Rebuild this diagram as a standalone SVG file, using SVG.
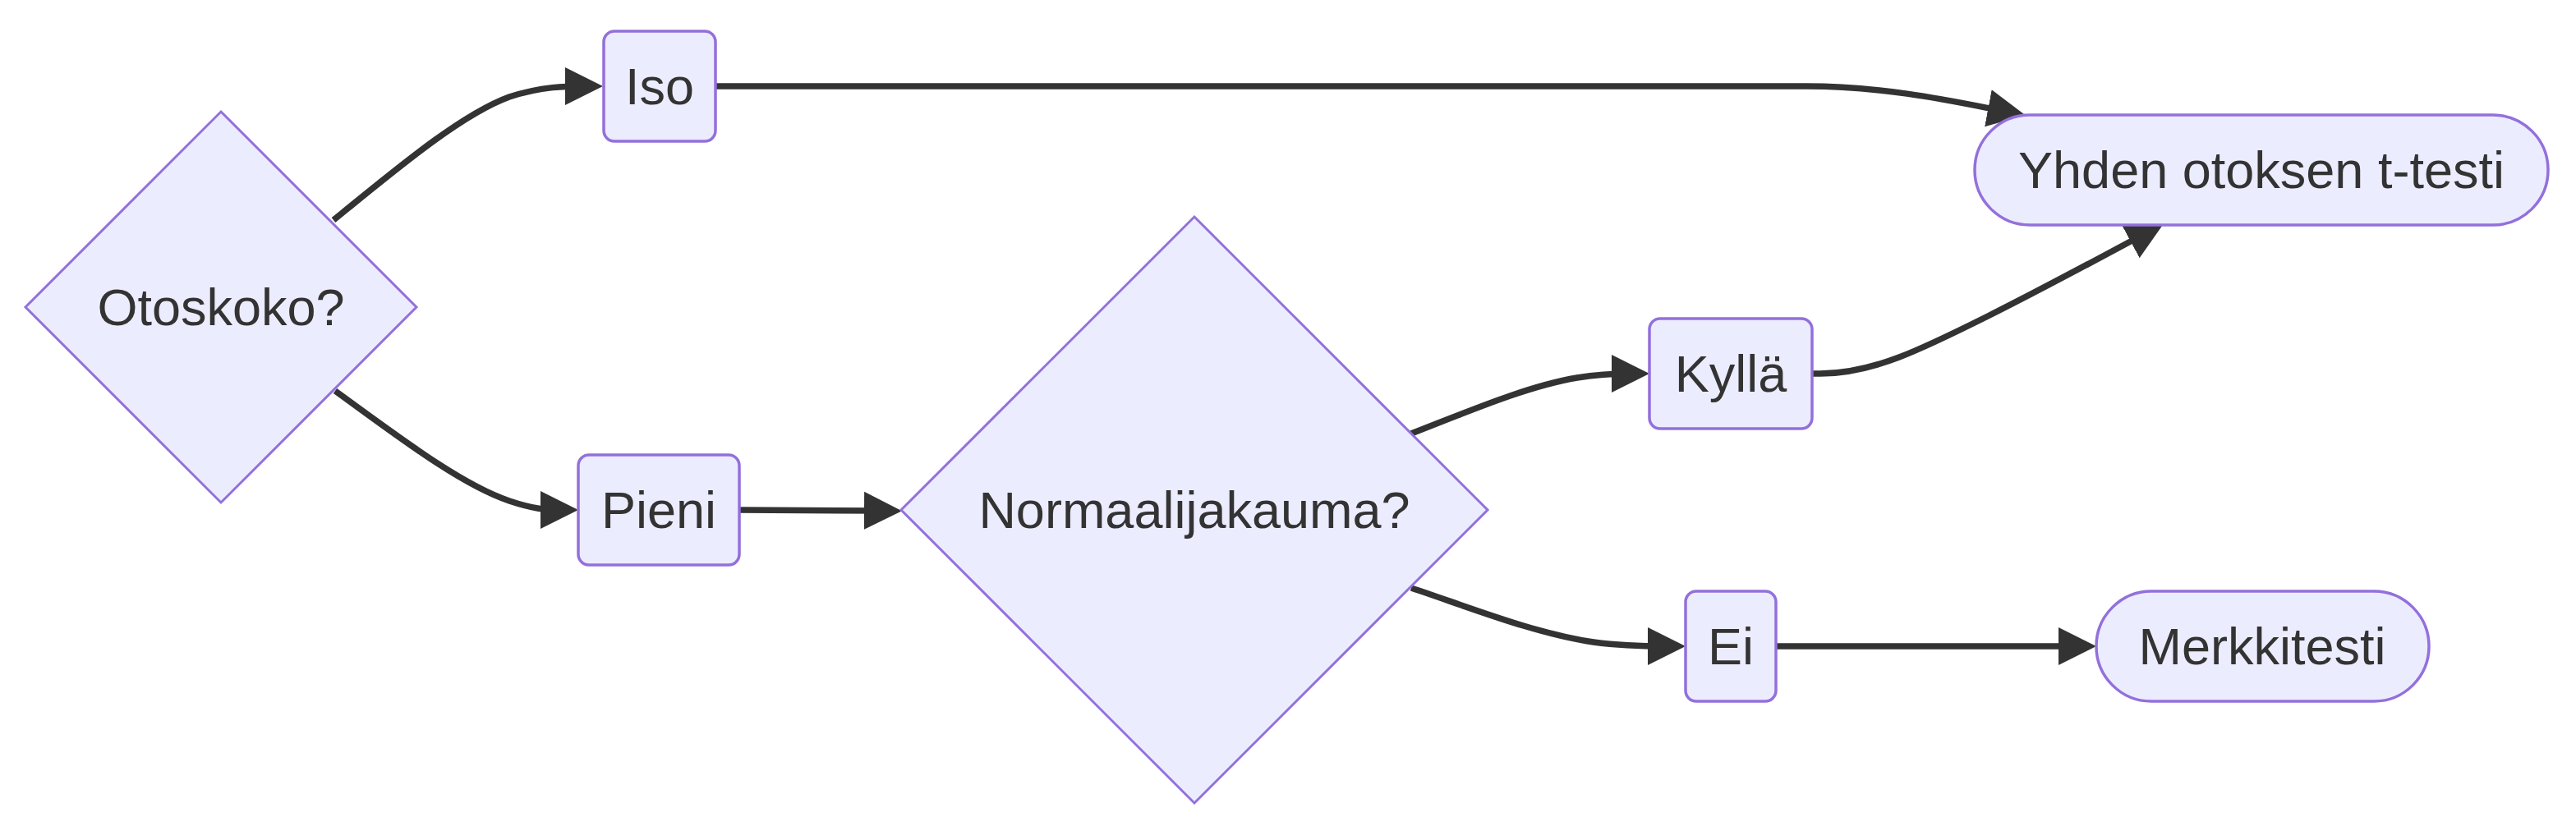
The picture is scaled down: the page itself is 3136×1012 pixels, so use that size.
<svg xmlns="http://www.w3.org/2000/svg" width="3136" height="1012" viewBox="0 0 3136 1012">
<style>
.node{fill:#ECECFF;stroke:#9370DB;stroke-width:3.5}
.dia{fill:#ECECFF;stroke:#9370DB;stroke-width:3}
.lbl{font-family:"Liberation Sans",Arial,sans-serif;font-size:63px;fill:#333333;text-anchor:middle}
.edge{fill:none;stroke:#333333;stroke-width:7.5;marker-end:url(#arrow)}
</style>
<defs>
<marker id="arrow" viewBox="0 0 10 10" refX="5" refY="5" markerUnits="userSpaceOnUse" markerWidth="46" markerHeight="48" orient="auto">
<path d="M0,0 L10,5 L0,10 z" fill="#333333"/>
</marker>
</defs>
<rect width="3136" height="1012" fill="#ffffff"/>
<g id="edges">
<path class="edge" d="M406,268 C480,208 560,140 620,118 C660,105 690,105 711,105"/>
<path class="edge" d="M408,476 C480,528 560,590 620,610 C650,620 665,621 681,621"/>
<path class="edge" d="M900,621 L1075,622"/>
<path class="edge" d="M871,105 L2200,105 C2300,105 2390,126 2443,136"/>
<path class="edge" d="M2206,455 L2216,455 C2280,455 2340,425 2420,385 C2490,350 2560,312 2614,283"/>
<path class="edge" d="M1718,528 C1790,500 1860,470 1920,460 C1945,456 1965,455 1985,455"/>
<path class="edge" d="M1718,716 C1790,740 1870,772 1940,782 C1970,786 1995,787 2029,787"/>
<path class="edge" d="M2162,787 L2529,787"/>
</g>
<g id="otoskoko">
<polygon class="dia" points="269,136 507,374 269,612 31,374"/>
<text class="lbl" x="269" y="396">Otoskoko?</text>
</g>
<g id="iso">
<rect class="node" x="735" y="38" width="136" height="134" rx="13"/>
<text class="lbl" x="803" y="127">Iso</text>
</g>
<g id="pieni">
<rect class="node" x="704" y="554" width="196" height="134" rx="13"/>
<text class="lbl" x="802" y="643">Pieni</text>
</g>
<g id="normaali">
<polygon class="dia" points="1454,264 1811,621 1454,978 1097,621"/>
<text class="lbl" x="1454" y="643">Normaalijakauma?</text>
</g>
<g id="kylla">
<rect class="node" x="2008" y="388" width="198" height="134" rx="13"/>
<text class="lbl" x="2107" y="477">Kyllä</text>
</g>
<g id="ei">
<rect class="node" x="2052" y="720" width="110" height="134" rx="13"/>
<text class="lbl" x="2107" y="809">Ei</text>
</g>
<g id="ttesti">
<rect class="node" x="2404" y="140" width="698" height="134" rx="67"/>
<text class="lbl" x="2753" y="229">Yhden otoksen t-testi</text>
</g>
<g id="merkkitesti">
<rect class="node" x="2552" y="720" width="405" height="134" rx="67"/>
<text class="lbl" x="2754" y="809">Merkkitesti</text>
</g>
</svg>
